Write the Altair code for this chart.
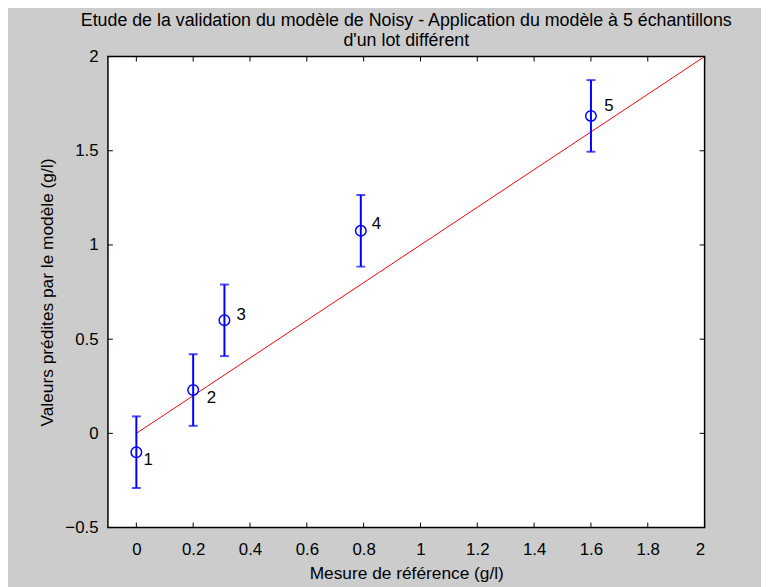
import altair as alt
import pandas as pd

# ---- data ----
samples = ["1", "2", "3", "4", "5"]
ref_x = [0.0, 0.2, 0.31, 0.79, 1.6]
pred_y = [-0.10, 0.23, 0.60, 1.075, 1.685]
err = [0.19, 0.19, 0.19, 0.19, 0.19]
label_x = [0.042, 0.264, 0.369, 0.845, 1.663]
label_y = [-0.143, 0.188, 0.629, 1.112, 1.737]
line_x = [0.0, 2.0]
line_y = [0.0, 2.0]
x_ticks = [0, 0.2, 0.4, 0.6, 0.8, 1, 1.2, 1.4, 1.6, 1.8, 2]
y_ticks = [-0.5, 0, 0.5, 1, 1.5, 2]
x_domain = [-0.1, 2.0]
y_domain = [-0.5, 2.0]

FONT = "Liberation Sans"
W, H = 603, 476
TL = 5

pts = pd.DataFrame({"s": samples, "x": ref_x, "y": pred_y,
                    "lo": [v - e for v, e in zip(pred_y, err)],
                    "hi": [v + e for v, e in zip(pred_y, err)],
                    "lx": label_x, "ly": label_y})
ln = pd.DataFrame({"x": line_x, "y": line_y})
xt = pd.DataFrame({"t": x_ticks})
yt = pd.DataFrame({"t": y_ticks})

xs = alt.Scale(domain=x_domain, nice=False, zero=False)
ys = alt.Scale(domain=y_domain, nice=False, zero=False)

xaxis = alt.Axis(values=x_ticks, format=".1~f", grid=False, domain=False, ticks=False,
                 labelPadding=14, labelFontSize=17, labelFont=FONT, labelColor="#000",
                 title="Mesure de référence (g/l)", titleFontSize=17.5, titleFont=FONT,
                 titleFontWeight="normal", titleColor="#000", titlePadding=7)
yaxis = alt.Axis(values=y_ticks, format=".1~f", grid=False, domain=False, ticks=False,
                 labelPadding=10, labelFontSize=17, labelFont=FONT, labelColor="#000",
                 title="Valeurs prédites par le modèle (g/l)", titleFontSize=17.5, titleFont=FONT,
                 titleFontWeight="normal", titleColor="#000", titlePadding=8)

base = alt.Chart(pts)

line = alt.Chart(ln).mark_line(color="#ff0000", strokeWidth=1, clip=True).encode(
    x=alt.X("x:Q", scale=xs, axis=xaxis),
    y=alt.Y("y:Q", scale=ys, axis=yaxis),
)

bars = base.mark_rule(color="#0000ff", strokeWidth=2).encode(
    x=alt.X("x:Q", scale=xs), y=alt.Y("lo:Q", scale=ys), y2="hi:Q")
cap_lo = base.mark_tick(color="#0000ff", orient="horizontal", size=9, thickness=2).encode(
    x=alt.X("x:Q", scale=xs), y=alt.Y("lo:Q", scale=ys))
cap_hi = base.mark_tick(color="#0000ff", orient="horizontal", size=9, thickness=2).encode(
    x=alt.X("x:Q", scale=xs), y=alt.Y("hi:Q", scale=ys))
marks = base.mark_point(shape="circle", size=113, filled=False, color="#0000ff",
                        strokeWidth=1.5, opacity=1).encode(
    x=alt.X("x:Q", scale=xs), y=alt.Y("y:Q", scale=ys))
labels = base.mark_text(font=FONT, fontSize=17, color="#000", align="center",
                        baseline="middle").encode(
    x=alt.X("lx:Q", scale=xs), y=alt.Y("ly:Q", scale=ys), text="s:N")

tick_b = alt.Chart(xt).mark_rule(color="#000", strokeWidth=1).encode(
    x=alt.X("t:Q", scale=xs), y=alt.value(H), y2=alt.value(H - TL))
tick_t = alt.Chart(xt).mark_rule(color="#000", strokeWidth=1).encode(
    x=alt.X("t:Q", scale=xs), y=alt.value(0), y2=alt.value(TL))
tick_l = alt.Chart(yt).mark_rule(color="#000", strokeWidth=1).encode(
    y=alt.Y("t:Q", scale=ys), x=alt.value(0), x2=alt.value(TL))
tick_r = alt.Chart(yt).mark_rule(color="#000", strokeWidth=1).encode(
    y=alt.Y("t:Q", scale=ys), x=alt.value(W), x2=alt.value(W - TL))

chart = alt.layer(line, tick_b, tick_t, tick_l, tick_r, bars, cap_lo, cap_hi, marks, labels).properties(
    width=W, height=H,
    title=alt.Title(
        ["Etude de la validation du modèle de Noisy - Application du modèle à 5 échantillons",
         "d'un lot différent"],
        font=FONT, fontSize=18, fontWeight="normal", color="#000", anchor="middle",
        lineHeight=20, offset=-2),
    autosize=alt.AutoSizeParams(type="none"),
    padding={"left": 101, "top": 46, "right": 57, "bottom": 57},
    background="#cccccc",
).configure_view(fill="white", stroke="black", strokeWidth=1.5)

chart.save("out.html", embed_options={"renderer": "svg", "actions": False})
